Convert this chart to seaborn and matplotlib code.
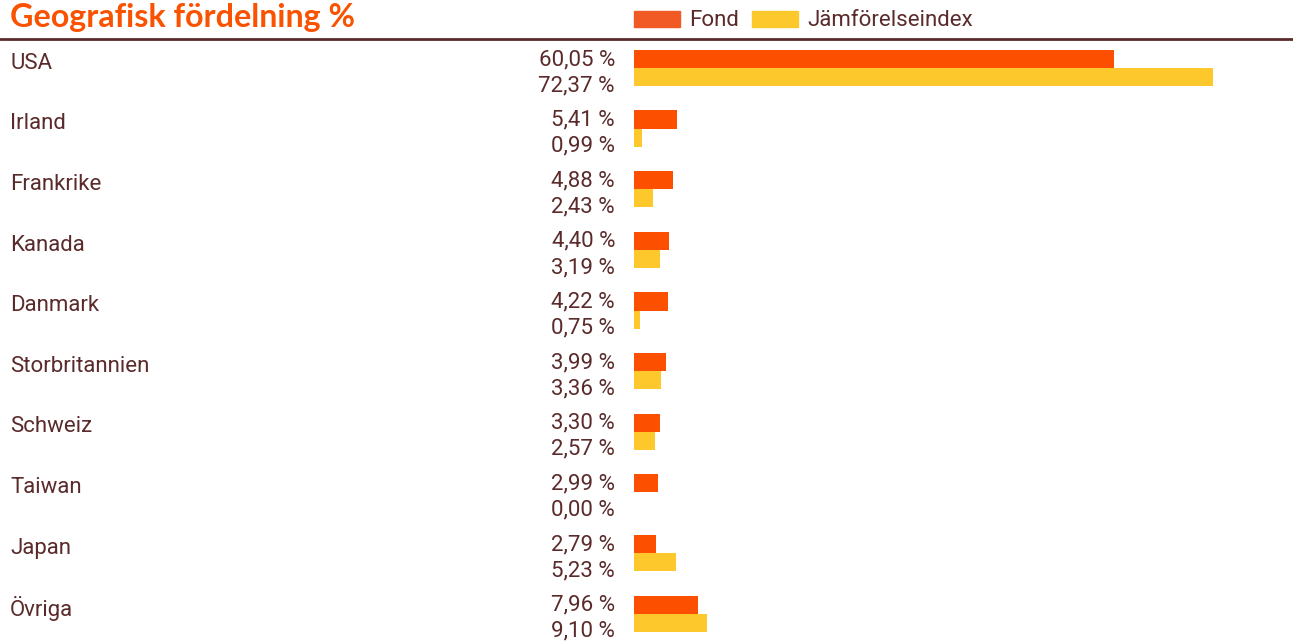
import matplotlib
matplotlib.use("Agg")
import matplotlib.pyplot as plt
from matplotlib.patches import Patch
from matplotlib.lines import Line2D
import matplotlib.transforms as mtransforms
import seaborn as sns
import pandas as pd

# data
lander = ["USA", "Irland", "Frankrike", "Kanada", "Danmark", "Storbritannien",
          "Schweiz", "Taiwan", "Japan", "Övriga"]
fond = [60.05, 5.41, 4.88, 4.40, 4.22, 3.99, 3.30, 2.99, 2.79, 7.96]
index = [72.37, 0.99, 2.43, 3.19, 0.75, 3.36, 2.57, 0.00, 5.23, 9.10]
serier = ["Fond", "Jämförelseindex"]

orange = "#FC5000"
yellow = "#FDC82C"
brown = "#5B2B2B"

df = pd.DataFrame({
    "land": lander * 2,
    "varde": fond + index,
    "serie": [serier[0]] * len(lander) + [serier[1]] * len(lander),
})

sns.set_theme(style="white")
plt.rcParams["font.family"] = ["Roboto", "DejaVu Sans"]

W, H = 1293, 641
fig = plt.figure(figsize=(W / 100, H / 100), dpi=100)
ax = fig.add_axes([634 / W, 0.0, 1 - 634 / W, 0.9412])

sns.barplot(data=df, x="varde", y="land", hue="serie", orient="h",
            palette=[orange, yellow], width=0.6, ax=ax, legend=False,
            saturation=1, linewidth=0, edgecolor="none")

ax.set_xlim(0, (W - 634) / 8)
ax.set_ylim(9.45, -0.5)
ax.set_axis_off()

fs = 16
trans = mtransforms.blended_transform_factory(fig.transFigure, ax.transData)
for i, land in enumerate(lander):
    ax.text(10 / W, i - 0.08, land, transform=trans, ha="left", va="center",
            fontsize=fs, color=brown)
    ax.text(615 / W, i - 0.14, f"{fond[i]:.2f}".replace(".", ",") + " %",
            transform=trans, ha="right", va="center", fontsize=fs, color=brown)
    ax.text(615 / W, i + 0.29, f"{index[i]:.2f}".replace(".", ",") + " %",
            transform=trans, ha="right", va="center", fontsize=fs, color=brown)

# title and rule
fig.text(10 / W, 1 - 18 / H, "Geografisk fördelning %", ha="left", va="center",
         fontsize=23.2, fontweight="bold", color="#F95200", family="Lato")
fig.add_artist(Line2D([0, 1], [1 - 38.5 / H, 1 - 38.5 / H], transform=fig.transFigure,
                      color=brown, linewidth=2))

handles = [Patch(color="#F15A24"), Patch(color=yellow)]
leg = fig.legend(handles, serier, loc="center left",
                 bbox_to_anchor=(634 / W, 1 - 21 / H), ncol=2, frameon=False,
                 fontsize=fs, handlelength=2.05, handleheight=0.72,
                 handletextpad=0.42, columnspacing=0.6, borderaxespad=0,
                 borderpad=0)
for t in leg.get_texts():
    t.set_color(brown)

plt.savefig("out.png", dpi=100)
